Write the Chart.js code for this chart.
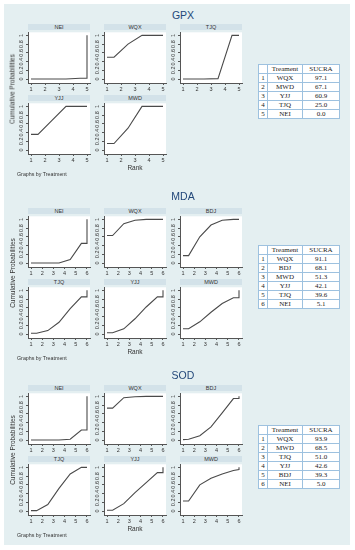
<!DOCTYPE html>
<html>
<head>
<meta charset="utf-8">
<script src="https://cdn.jsdelivr.net/npm/chart.js@4.4.0/dist/chart.umd.min.js"></script>
<style>
    body { margin: 0; background: #fff; width: 355px; height: 550px; overflow: hidden; position: relative;
           font-family: 'Liberation Sans', Arial, sans-serif; }
    #bg { position: absolute; left: 4px; top: 4px; width: 346px; height: 541px; background: #e4eff1; }
    canvas { position: absolute; }
    .strip { position: absolute; height: 6px; background: #d3e2e9; font-size: 5.5px; line-height: 6px;
             text-align: center; color: #333; }
    .title { position: absolute; font-size: 10.5px; color: #23487a; transform: translate(-50%, -50%); white-space: nowrap; }
    .ylab { position: absolute; font-size: 6.5px; color: #333; white-space: nowrap;
            transform: translate(-50%, -50%) rotate(-90deg); }
    .rank { position: absolute; font-size: 6.5px; color: #333; transform: translate(-50%, -50%); }
    .by { position: absolute; font-size: 5.3px; color: #333; transform: translateY(-50%); white-space: nowrap; }
    table { position: absolute; border-collapse: collapse; background: #fff;
            font-family: 'Liberation Serif', 'DejaVu Serif', serif; font-size: 7px; color: #222; }
    td { border: 1px solid #9dc1df; height: 8px; padding: 0; text-align: center; line-height: 8px; }
</style>
</head>
<body>
<div id="bg"></div>
<script>
// ranks where the cumulative curve is plotted (last point repeats for the jump to 1)
const ranks5 = [1, 1.5, 2.5, 3.5, 4.5, 5, 5];
const ranks6 = [1, 1.5, 2.5, 3.5, 4.5, 5.5, 6, 6];

// GPX
const gpxPanels = ['NEI', 'WQX', 'TJQ', 'YJJ', 'MWD'];
const gpxNEI = [0, 0, 0, 0, 0.02, 0.02, 1];
const gpxWQX = [0.5, 0.5, 0.8, 1, 1, 1, 1];
const gpxTJQ = [0, 0, 0, 0.01, 1, 1, 1];
const gpxYJJ = [0.36, 0.36, 0.68, 1, 1, 1, 1];
const gpxMWD = [0.15, 0.15, 0.5, 1, 1, 1, 1];
const gpxTreat = ['WQX', 'MWD', 'YJJ', 'TJQ', 'NEI'];
const gpxSucra = [97.1, 67.1, 60.9, 25.0, 0.0];

// MDA
const mdaPanels = ['NEI', 'WQX', 'BDJ', 'TJQ', 'YJJ', 'MWD'];
const mdaNEI = [0, 0, 0, 0, 0.08, 0.45, 0.45, 1];
const mdaWQX = [0.63, 0.63, 0.9, 0.98, 1, 1, 1, 1];
const mdaBDJ = [0.17, 0.17, 0.6, 0.87, 0.98, 1, 1, 1];
const mdaTJQ = [0.02, 0.02, 0.08, 0.27, 0.58, 0.85, 0.85, 1];
const mdaYJJ = [0.03, 0.03, 0.12, 0.35, 0.62, 0.85, 0.85, 1];
const mdaMWD = [0.12, 0.12, 0.28, 0.5, 0.7, 0.83, 0.83, 1];
const mdaTreat = ['WQX', 'BDJ', 'MWD', 'YJJ', 'TJQ', 'NEI'];
const mdaSucra = [91.1, 68.1, 51.3, 42.1, 39.6, 5.1];

// SOD
const sodPanels = ['NEI', 'WQX', 'BDJ', 'TJQ', 'YJJ', 'MWD'];
const sodNEI = [0, 0, 0, 0, 0.02, 0.23, 0.23, 1];
const sodWQX = [0.73, 0.73, 0.97, 0.99, 1, 1, 1, 1];
const sodBDJ = [0.01, 0.02, 0.1, 0.3, 0.62, 0.95, 0.95, 1];
const sodTJQ = [0.01, 0.01, 0.15, 0.52, 0.85, 1, 1, 1];
const sodYJJ = [0.02, 0.02, 0.17, 0.42, 0.65, 0.88, 0.88, 1];
const sodMWD = [0.23, 0.23, 0.6, 0.75, 0.85, 0.93, 0.95, 1];
const sodTreat = ['WQX', 'MWD', 'TJQ', 'YJJ', 'BDJ', 'NEI'];
const sodSucra = [93.9, 68.5, 51.0, 42.6, 39.3, 5.0];

const yTicks = [0, 0.2, 0.4, 0.6, 0.8, 1];

// layout
const COL_X = [28, 104, 180];
const PLOT_W = 62, PLOT_H = 53, STRIP_H = 6, ROW_STEP = 71;
const Y_AXIS_W = 13, X_AXIS_H = 10, PAD_TOP = 2, PAD_RIGHT = 3;

const sections = [
    { name: 'GPX', panels: gpxPanels, ranks: ranks5, n: 5,
      series: [gpxNEI, gpxWQX, gpxTJQ, gpxYJJ, gpxMWD],
      treat: gpxTreat, sucra: gpxSucra, top: 24, titleY: 15, tableTop: 64 },
    { name: 'MDA', panels: mdaPanels, ranks: ranks6, n: 6,
      series: [mdaNEI, mdaWQX, mdaBDJ, mdaTJQ, mdaYJJ, mdaMWD],
      treat: mdaTreat, sucra: mdaSucra, top: 208, titleY: 196, tableTop: 245 },
    { name: 'SOD', panels: sodPanels, ranks: ranks6, n: 6,
      series: [sodNEI, sodWQX, sodBDJ, sodTJQ, sodYJJ, sodMWD],
      treat: sodTreat, sucra: sodSucra, top: 385, titleY: 375, tableTop: 425 }
];

// white plot region behind the curve
const plotBg = {
    id: 'plotBg',
    beforeDraw(chart) {
        const { ctx, chartArea: a } = chart;
        ctx.save();
        ctx.fillStyle = '#fff';
        ctx.fillRect(a.left, a.top, a.right - a.left, a.bottom - a.top);
        ctx.restore();
    }
};

function addDiv(cls, text, left, top, extra) {
    const d = document.createElement('div');
    d.className = cls;
    d.textContent = text;
    d.style.left = left + 'px';
    d.style.top = top + 'px';
    if (extra) Object.assign(d.style, extra);
    document.body.appendChild(d);
    return d;
}

function makePlot(left, top, ranks, values, n) {
    const c = document.createElement('canvas');
    const w = Y_AXIS_W + PLOT_W + PAD_RIGHT, h = PAD_TOP + PLOT_H + X_AXIS_H;
    c.width = w; c.height = h;
    c.style.left = (left - Y_AXIS_W) + 'px';
    c.style.top = (top - PAD_TOP) + 'px';
    c.style.width = w + 'px'; c.style.height = h + 'px';
    document.body.appendChild(c);

    const xPad = 3 * (n - 1) / 56;
    const xTicks = [];
    for (let i = 1; i <= n; i++) xTicks.push(i);

    new Chart(c, {
        type: 'scatter',
        data: {
            datasets: [{
                data: ranks.map((r, i) => ({ x: r, y: values[i] })),
                showLine: true,
                borderColor: '#4a4a4a',
                borderWidth: 1.1,
                pointRadius: 0,
                tension: 0,
                fill: false
            }]
        },
        options: {
            responsive: false,
            animation: false,
            events: [],
            layout: { autoPadding: false, padding: { left: 0, right: PAD_RIGHT, top: PAD_TOP, bottom: 0 } },
            plugins: { legend: { display: false }, tooltip: { enabled: false } },
            scales: {
                x: {
                    type: 'linear',
                    min: 1 - xPad,
                    max: n + xPad,
                    afterBuildTicks: s => { s.ticks = xTicks.map(v => ({ value: v })); },
                    afterFit: s => { s.height = X_AXIS_H; },
                    grid: { drawOnChartArea: false, drawTicks: true, tickLength: 2, color: '#555' },
                    border: { display: true, color: '#555', width: 1 },
                    ticks: { font: { size: 5.5, family: "'Liberation Sans', Arial" }, color: '#333',
                             padding: 1, maxRotation: 0, autoSkip: false }
                },
                y: {
                    type: 'linear',
                    min: -0.09,
                    max: 1.07,
                    afterBuildTicks: s => { s.ticks = yTicks.map(v => ({ value: v })); },
                    afterFit: s => { s.width = Y_AXIS_W; },
                    grid: { drawOnChartArea: false, drawTicks: true, tickLength: 2, color: '#555' },
                    border: { display: true, color: '#555', width: 1 },
                    ticks: { font: { size: 5.5, family: "'Liberation Sans', Arial" }, color: '#333',
                             padding: 1, minRotation: 90, maxRotation: 90, crossAlign: 'center',
                             autoSkip: false, callback: v => String(v) }
                }
            }
        },
        plugins: [plotBg]
    });
}

function makeTable(sec) {
    const t = document.createElement('table');
    t.style.left = '258px';
    t.style.top = sec.tableTop + 'px';
    let html = '<tr><td style="width:8px"></td><td style="width:34px">Treament</td><td style="width:36px">SUCRA</td></tr>';
    sec.treat.forEach((tr, i) => {
        html += `<tr><td>${i + 1}</td><td>${tr}</td><td>${sec.sucra[i].toFixed(1)}</td></tr>`;
    });
    t.innerHTML = html;
    document.body.appendChild(t);
}

sections.forEach(sec => {
    addDiv('title', sec.name, 183, sec.titleY);
    sec.panels.forEach((p, i) => {
        const row = Math.floor(i / 3), col = i % 3;
        const x = COL_X[col];
        const stripTop = sec.top + row * ROW_STEP;
        addDiv('strip', p, x, stripTop, { width: PLOT_W + 'px' });
        makePlot(x, stripTop + STRIP_H, sec.ranks, sec.series[i], sec.n);
    });
    const bottom = sec.top + ROW_STEP + STRIP_H + PLOT_H;
    addDiv('ylab', 'Cumulative Probabilities', 12, (sec.top + bottom) / 2);
    addDiv('rank', 'Rank', 135, bottom + 12.5);
    addDiv('by', 'Graphs by Treatment', 17, bottom + 19.5);
    makeTable(sec);
});
</script>
</body>
</html>
